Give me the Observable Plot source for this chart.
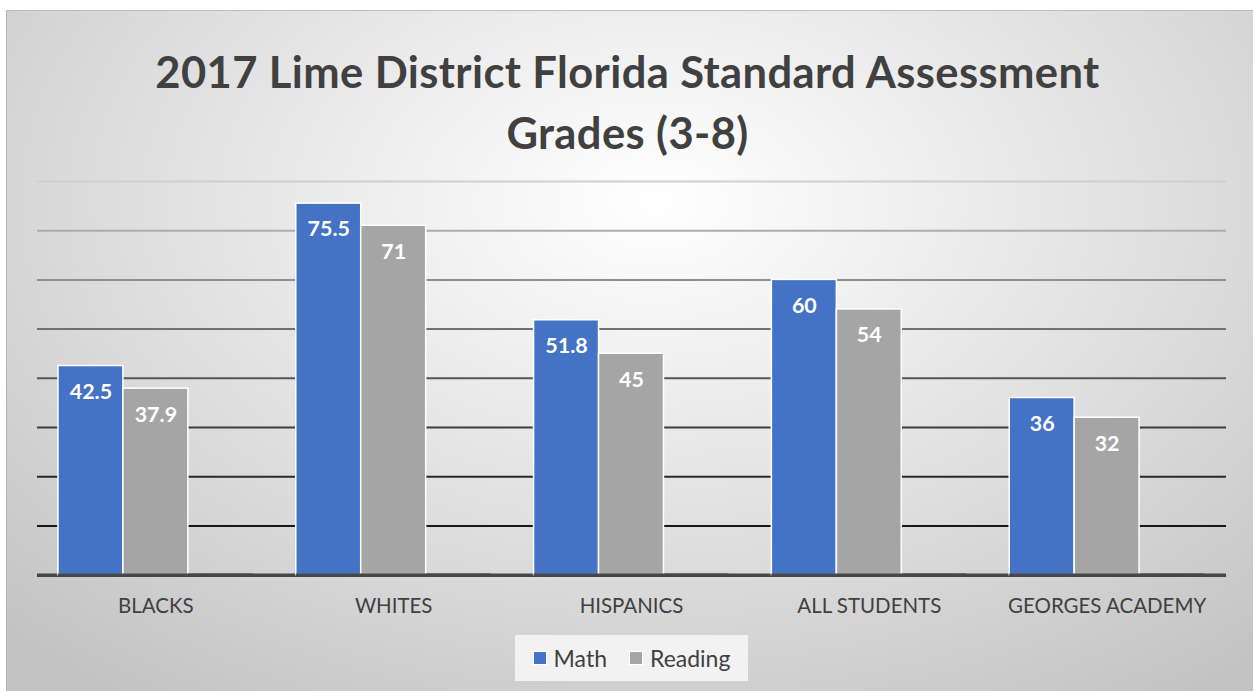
<!DOCTYPE html>
<html>
<head>
<meta charset="utf-8">
<script src="https://cdn.jsdelivr.net/npm/d3@7"></script>
<script src="https://cdn.jsdelivr.net/npm/@observablehq/plot@0.6"></script>
<style>
  html, body { margin: 0; padding: 0; background: #ffffff; width: 1253px; height: 691px; overflow: hidden; }
  #panel {
    position: absolute; left: 6px; top: 10px; width: 1247px; height: 681px;
    box-sizing: border-box;
    border-left: 1px solid #b5b5b5; border-top: 1px solid #bdbdbd;
    background: radial-gradient(ellipse 75% 90% at 52% 28%, #ffffff 0%, #f1f1f1 25%, #dcdcdc 60%, #c2c2c2 100%);
  }
  #title {
    position: absolute; left: -6px; top: 30px; width: 1253px; text-align: center;
    font-family: Lato, sans-serif; font-weight: bold; font-size: 43.5px; letter-spacing: 0.4px; line-height: 61px; color: #404040;
  }
  #grid, #chart { position: absolute; left: -6px; top: 150px; }
  #legend {
    position: absolute; left: 508px; top: 624px; width: 233px; height: 46px;
    background: #f2f2f2; display: flex; align-items: center; justify-content: center; gap: 22px;
    font-family: Lato, sans-serif; font-size: 23px; color: #404040;
  }
  .item { display: flex; align-items: center; gap: 7px; }
  .sw { width: 12px; height: 12px; border: 1px solid #ffffff; }
</style>
</head>
<body>
<div id="panel">
  <div id="title">2017 Lime District Florida Standard Assessment<br>Grades (3-8)</div>
  <div id="grid"></div>
  <div id="chart"></div>
  <div id="legend"></div>
</div>
<script>
const categories = ["BLACKS", "WHITES", "HISPANICS", "ALL STUDENTS", "GEORGES ACADEMY"];
const seriesNames = ["Math", "Reading"];
const mathValues = [42.5, 75.5, 51.8, 60, 36];
const readingValues = [37.9, 71, 45, 54, 32];
const gridTicks = [10, 20, 30, 40, 50, 60, 70, 80];
const seriesColors = ["#4472C4", "#A5A5A5"];

const data = categories.flatMap((c, i) => [
  {category: c, series: "Math", value: mathValues[i]},
  {category: c, series: "Reading", value: readingValues[i]}
]);

// legend
const legend = document.getElementById("legend");
seriesNames.forEach((s, i) => {
  const item = document.createElement("div");
  item.className = "item";
  const sw = document.createElement("div");
  sw.className = "sw";
  sw.style.background = seriesColors[i];
  const label = document.createElement("span");
  label.textContent = s;
  item.appendChild(sw);
  item.appendChild(label);
  legend.appendChild(item);
});

const gridInterp = d3.interpolateRgb("#0d0d0d", "#cfcfcf");
const gridColor = t => gridInterp(Math.pow(t / 80, 1.43));

const common = {
  width: 1253,
  height: 480,
  marginLeft: 36,
  marginRight: 27,
  marginTop: 20,
  marginBottom: 66,
  style: {background: "transparent", fontFamily: "Lato, sans-serif", fontSize: "20.5px", color: "#404040", overflow: "visible"},
  y: {domain: [0, 80], axis: null}
};

// background layer: full-width gridlines and baseline
const grid = Plot.plot({
  ...common,
  x: {axis: null},
  marks: [
    ...gridTicks.map(t => Plot.ruleY([t], {stroke: gridColor(t), strokeWidth: 2})),
    Plot.ruleY([0], {stroke: "#474747", strokeWidth: 3.5})
  ]
});
document.getElementById("grid").appendChild(grid);

// bars layer, faceted by category
const chart = Plot.plot({
  ...common,
  fx: {domain: categories, paddingInner: 0.18, paddingOuter: 0.09, axis: "bottom", tickSize: 0, tickPadding: 23, label: null},
  x: {domain: [...seriesNames, "(empty)"], paddingInner: 0, paddingOuter: 0, axis: null},
  color: {domain: seriesNames, range: seriesColors},
  marks: [
    Plot.barY(data, {fx: "category", x: "series", y: "value", fill: "series", stroke: "white", strokeWidth: 1.5}),
    Plot.ruleY([0], {stroke: "#474747", strokeWidth: 3.5}),
    Plot.text(data, {fx: "category", x: "series", y: "value", text: d => String(d.value), dy: 26, fill: "white", fontWeight: "bold", fontSize: 21.5})
  ]
});
document.getElementById("chart").appendChild(chart);
</script>
</body>
</html>
